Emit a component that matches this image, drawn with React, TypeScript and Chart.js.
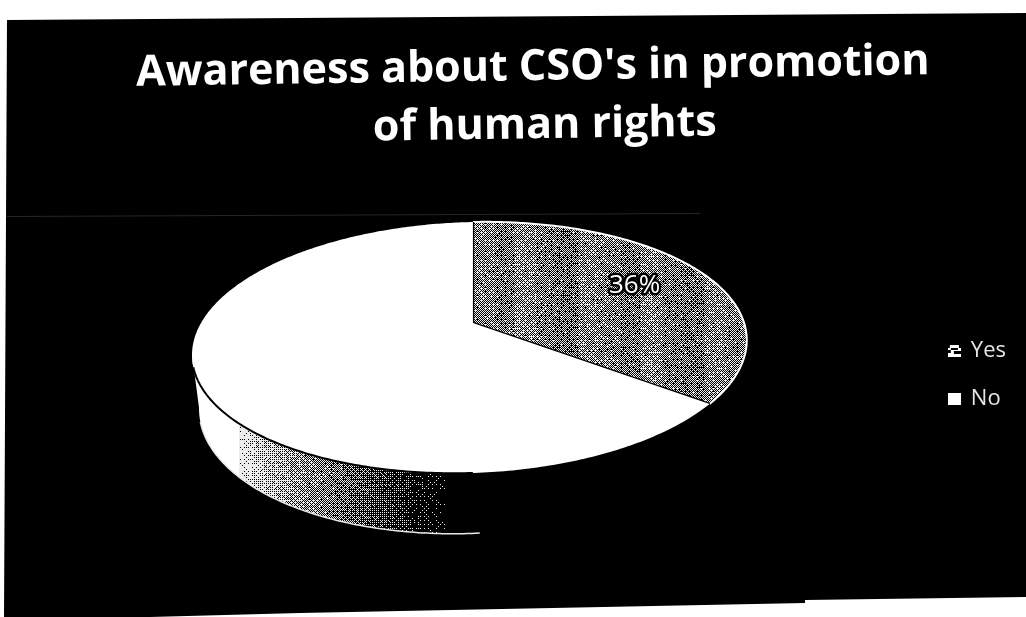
import React, { useEffect, useRef } from "react";
import { ArcElement, Chart, Legend, PieController } from "chart.js";

Chart.register(PieController, ArcElement, Legend);

const categories = ["Yes", "No"];
const shares = [36, 64];
const titleLines = ["Awareness about CSO's in promotion", "of human rights"];
const valueLabels = ["36%"];

// Plate seen at an angle: foreshortening, near/far scale, left/right scale, roll and wall height.
const TILT = 0.4438;
const NEAR_FAR = 0.195;
const SIDE_SCALE = 0.0126;
const ROLL = -0.0254;
const WALL = 0.19;
const BASE_SHRINK = 0.975;

// Brightness of the wall from left to right, and of the shaded slice in vertical bands.
const wallStops: [number, number][] = [[0, 1], [238, 1], [258, 0.8], [294, 0.62], [344, 0.42], [389, 0.2], [425, 0.06], [445, 0], [1026, 0]];
const bandLevels = [0.54, 0.47, 0.57, 0.49, 0.44, 0.56, 0.52, 0.46, 0.58, 0.48, 0.45, 0.55, 0.52, 0.47];
const BAYER = [[0, 8, 2, 10], [12, 4, 14, 6], [3, 11, 1, 9], [15, 7, 13, 5]];

// Repeating halftone screen with a little fixed grain, so that the shading reads as print dots.
function ditherTile(level: (x: number) => number): HTMLCanvasElement {
  const tile = document.createElement("canvas");
  tile.width = 1026;
  tile.height = 64;
  const c = tile.getContext("2d")!;
  const img = c.createImageData(tile.width, tile.height);
  for (let y = 0; y < tile.height; y++) {
    for (let x = 0; x < tile.width; x++) {
      const h = Math.sin(x * 12.9898 + y * 78.233) * 43758.5453;
      const grain = (h - Math.floor(h) - 0.5) * 0.25;
      const threshold = (BAYER[y % 4][x % 4] + 0.5) / 16 + grain;
      const l = level(x);
      const v = l >= 1 ? 255 : l <= 0 ? 0 : l > threshold ? 236 : 0;
      const i = (y * tile.width + x) * 4;
      img.data[i] = img.data[i + 1] = img.data[i + 2] = v;
      img.data[i + 3] = 255;
    }
  }
  c.putImageData(img, 0, 0);
  return tile;
}

function wallLevel(x: number): number {
  for (let i = 1; i < wallStops.length; i++) {
    const [x0, l0] = wallStops[i - 1];
    const [x1, l1] = wallStops[i];
    if (x <= x1) return l0 + ((l1 - l0) * (x - x0)) / (x1 - x0);
  }
  return 0;
}

function project(a: any, angle: number, fraction = 1, lowered = false) {
  const shrink = lowered ? BASE_SHRINK : 1;
  const u = fraction * Math.cos(angle);
  const v = fraction * Math.sin(angle);
  const w = 1 - NEAR_FAR * v + SIDE_SCALE * u;
  const drop = lowered ? WALL : 0;
  return {
    x: a.x + (a.outerRadius * u * shrink) / w,
    y: a.y + (a.outerRadius * (TILT * v * shrink + ROLL * u + drop)) / w,
  };
}

function rimPath(ctx: CanvasRenderingContext2D, a: any, from: number, to: number, lowered = false, move = true) {
  const steps = Math.max(2, Math.ceil(Math.abs(to - from) * 80));
  for (let i = 0; i <= steps; i++) {
    const p = project(a, from + ((to - from) * i) / steps, 1, lowered);
    if (i === 0 && move) ctx.moveTo(p.x, p.y);
    else ctx.lineTo(p.x, p.y);
  }
}

const WALL_FROM = 0.19;
const WALL_TO = Math.PI - 0.19;
let wallFill: CanvasPattern | null = null;

// Slices are drawn as a tilted plate with a wall under the front rim.
ArcElement.prototype.draw = function (this: any, ctx: CanvasRenderingContext2D) {
  const a = this.getProps(["x", "y", "startAngle", "endAngle", "outerRadius"]);
  const from = Math.max(a.startAngle, WALL_FROM);
  const to = Math.min(a.endAngle, WALL_TO);
  ctx.save();
  if (to > from) {
    ctx.beginPath();
    rimPath(ctx, a, from, to);
    rimPath(ctx, a, to, from, true, false);
    ctx.closePath();
    ctx.fillStyle = wallFill!;
    ctx.fill();
  }
  const isShaded = this.$context.dataIndex === 0;
  ctx.beginPath();
  ctx.moveTo(a.x, a.y);
  rimPath(ctx, a, a.startAngle, a.endAngle, false, false);
  ctx.closePath();
  ctx.fillStyle = this.options.backgroundColor;
  ctx.fill();
  if (isShaded) {
    ctx.beginPath();
    rimPath(ctx, a, a.startAngle, a.endAngle);
    ctx.strokeStyle = "#ffffff";
    ctx.lineWidth = 2;
    ctx.stroke();
    const s = project(a, a.startAngle);
    const e = project(a, a.endAngle);
    ctx.beginPath();
    ctx.moveTo(s.x, s.y);
    ctx.lineTo(a.x, a.y);
    ctx.lineTo(e.x, e.y);
    ctx.strokeStyle = "#000000";
    ctx.lineWidth = 2.5;
    ctx.stroke();
  } else {
    // Seam between the plate and its wall, and the bright lower edge of the wall.
    ctx.beginPath();
    rimPath(ctx, a, Math.PI / 2, 2.85);
    ctx.strokeStyle = "#000000";
    ctx.lineWidth = 2;
    ctx.stroke();
    ctx.beginPath();
    rimPath(ctx, a, 1.55, 2.85, true);
    ctx.strokeStyle = "#e8e8e8";
    ctx.lineWidth = 1.5;
    ctx.stroke();
  }
  ctx.restore();
};

const backdrop = {
  id: "backdrop",
  beforeDraw(chart: any) {
    const { ctx, width, height } = chart;
    ctx.save();
    ctx.fillStyle = "#ffffff";
    ctx.fillRect(0, 0, width, height);
    ctx.fillStyle = "#000000";
    ctx.beginPath();
    ctx.moveTo(7, 20);
    ctx.lineTo(width, 13);
    ctx.lineTo(width, 597);
    ctx.lineTo(805, 600);
    ctx.lineTo(805, 603);
    ctx.lineTo(300, 613);
    ctx.lineTo(150, height);
    ctx.lineTo(4, height);
    ctx.closePath();
    ctx.fill();
    ctx.strokeStyle = "#262626";
    ctx.lineWidth = 1;
    ctx.beginPath();
    ctx.moveTo(7, 216.5);
    ctx.lineTo(700, 213.5);
    ctx.stroke();
    ctx.restore();
  },
};

const headingAndValue = {
  id: "headingAndValue",
  afterDatasetsDraw(chart: any) {
    const { ctx } = chart;
    const lineCentres = [[533, 80], [545, 138]];
    ctx.save();
    ctx.fillStyle = "#ffffff";
    ctx.textAlign = "center";
    ctx.textBaseline = "alphabetic";
    ctx.font = "700 43px 'Open Sans'";
    titleLines.forEach((line, i) => {
      ctx.save();
      ctx.translate(lineCentres[i][0], lineCentres[i][1]);
      ctx.rotate(-0.0147);
      ctx.fillText(line, 0, 0);
      ctx.restore();
    });
    const arc: any = chart.getDatasetMeta(0).data[0];
    const mid = (arc.startAngle + arc.endAngle) / 2;
    const p = project(arc, mid, 0.7);
    ctx.font = "26px 'Open Sans'";
    ctx.textBaseline = "middle";
    ctx.lineJoin = "round";
    ctx.lineWidth = 5;
    ctx.strokeStyle = "#000000";
    ctx.strokeText(valueLabels[0], p.x, p.y);
    ctx.fillText(valueLabels[0], p.x, p.y);
    ctx.restore();
  },
};

function legendMark(shaded: boolean): HTMLCanvasElement {
  const m = document.createElement("canvas");
  m.width = 13;
  m.height = 12;
  const c = m.getContext("2d")!;
  c.fillStyle = "#ffffff";
  c.fillRect(0, 0, 13, 12);
  if (shaded) {
    c.fillStyle = "#000000";
    c.fillRect(0, 0, 2, 3);
    c.fillRect(11, 0, 2, 3);
    c.fillRect(3, 3, 7, 2);
    c.fillRect(0, 5, 3, 3);
    c.fillRect(6, 6, 7, 3);
  }
  return m;
}

export default function App() {
  const ref = useRef<HTMLCanvasElement>(null);
  useEffect(() => {
    const canvas = ref.current!;
    const ctx = canvas.getContext("2d")!;
    wallFill = ctx.createPattern(ditherTile(wallLevel), "repeat");
    const shadedFill = ctx.createPattern(
      ditherTile((x) => bandLevels[Math.floor((x - 473) / 21 + 1400) % bandLevels.length]),
      "repeat"
    );
    const marks = [legendMark(true), legendMark(false)];
    const chart = new Chart(canvas, {
      type: "pie",
      data: {
        labels: categories,
        datasets: [
          {
            data: shares,
            backgroundColor: [shadedFill as any, "#ffffff"],
            borderWidth: 0,
            radius: 272,
            clip: false as any,
          },
        ],
      },
      options: {
        responsive: false,
        animation: false,
        events: [],
        layout: { padding: { left: 23, right: 10, top: 210, bottom: 181 } },
        plugins: {
          title: { display: false },
          tooltip: { enabled: false },
          legend: {
            position: "right",
            align: "end",
            labels: {
              color: "#e6e6e6",
              font: { family: "'Open Sans'", size: 22 },
              padding: 26,
              usePointStyle: true,
              pointStyleWidth: 11,
              generateLabels: (c: any) =>
                categories.map((text, i) => ({
                  text,
                  index: i,
                  fontColor: "#e6e6e6",
                  lineWidth: 0,
                  hidden: false,
                  pointStyle: marks[i],
                })),
            },
          },
        },
      },
      plugins: [backdrop, headingAndValue],
    });
    return () => chart.destroy();
  }, []);
  return (
    <div style={{ position: "fixed", left: 0, top: 0, width: 1026, height: 617 }}>
      <canvas ref={ref} width={1026} height={617} style={{ display: "block" }} />
    </div>
  );
}
